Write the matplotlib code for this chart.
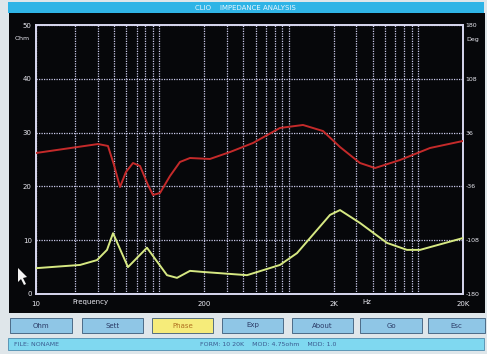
import numpy as np
import matplotlib.pyplot as plt
from matplotlib.patches import Rectangle, Polygon
from matplotlib.ticker import FixedLocator, NullFormatter

# Impedance magnitude trace (green), Ohm
mag_freq = [10, 21.9, 29.6, 35.4, 39.4, 51.4, 72.1, 103, 123, 155, 195, 428, 769,
            1042, 1487, 1875, 2240, 3198, 5164, 7380, 9305, 20000]
mag_ohm = [4.8, 5.4, 6.3, 8.2, 11.3, 5.0, 8.6, 3.5, 3.0, 4.3, 4.1, 3.5, 5.4,
           7.6, 11.9, 14.7, 15.6, 13.2, 9.5, 8.2, 8.2, 10.4]

# Phase trace (red), degrees
ph_freq = [10, 30.2, 36.0, 40.1, 44.6, 49.6, 56.2, 63.7, 73.4, 80.2, 90.9, 108.6,
           129.7, 155, 221, 316, 476, 769, 1159, 1655, 2240, 3198, 4178, 6516,
           11118, 20000]
ph_deg = [8.7, 20.7, 18.1, -7.4, -36.8, -16.7, -4.7, -8.7, -34.1, -47.5, -44.8, -22.1,
          -3.3, 2.0, 0.7, 10.0, 22.1, 42.2, 46.2, 38.1, 16.7, -4.7, -11.4, -0.7,
          15.4, 24.8]

ohm_ticks = [0, 10, 20, 30, 40, 50]
deg_ticks = [-180, -108, -36, 36, 108, 180]
freq_ticks = [10, 200, 2000, 20000]
freq_labels = ["10", "200", "2K", "20K"]
buttons = ["Ohm", "Sett", "Phase", "Exp", "About", "Go", "Esc"]

W, H = 487, 354
fig = plt.figure(figsize=(W / 100, H / 100), dpi=100)
fig.patch.set_facecolor("#dfe6ea")


def box(x0, y0, x1, y1, fc, ec="none", lw=0.0, z=-5):
    fig.patches.append(Rectangle((x0 / W, 1 - y1 / H), (x1 - x0) / W, (y1 - y0) / H,
                                 transform=fig.transFigure, facecolor=fc,
                                 edgecolor=ec, linewidth=lw, zorder=z))


def ftext(x, y, s, **kw):
    fig.text(x / W, 1 - y / H, s, **kw)


# window title bar
box(8, 2, 484, 13, "#2fb4e6")
ftext(245, 7.5, "CLIO    IMPEDANCE ANALYSIS", color="#e8f6ff", fontsize=5,
      ha="center", va="center")
# black display area
box(9, 13, 485, 313, "#06070a")

# button row
bx = [(10, 72), (82, 143), (152, 213), (222, 283), (292, 353), (360, 422), (428, 485)]
for (x0, x1), name in zip(bx, buttons):
    face = "#f6ec7a" if name == "Phase" else "#8fc6e6"
    box(x0, 318, x1, 333, face, ec="#3c5a78", lw=0.6)
    ftext((x0 + x1) / 2, 325.5, name, color="#2a3a66" if name != "Phase" else "#b07020",
          fontsize=5, ha="center", va="center")

# status bar
box(8, 338, 484, 350, "#7fd8f0", ec="#3a7aa0", lw=0.5)
ftext(14, 344, "FILE: NONAME", color="#3a5a90", fontsize=4.5, va="center")
ftext(200, 344, "FORM: 10 20K    MOD: 4.75ohm    MDD: 1.0", color="#3a5a90",
      fontsize=4.5, va="center")

# plot axes
x0, x1, y0, y1 = 36, 463, 25, 294
ax = fig.add_axes([x0 / W, 1 - y1 / H, (x1 - x0) / W, (y1 - y0) / H])
ax.set_zorder(1)
ax.set_facecolor("#06070a")
ax.set_xscale("log")
ax.set_xlim(10, 20000)
ax.set_ylim(0, 50)

minor = [m * 10 ** d for d in range(1, 5) for m in range(2, 10) if m * 10 ** d < 20000]
minor = [f for f in minor if f not in freq_ticks]
ax.xaxis.set_major_locator(FixedLocator(freq_ticks))
ax.xaxis.set_minor_locator(FixedLocator(minor))
ax.xaxis.set_minor_formatter(NullFormatter())
ax.set_xticklabels(freq_labels)
ax.set_yticks(ohm_ticks)
ax.set_yticklabels([str(v) for v in ohm_ticks])

grid_kw = dict(color="#d4d4f6", linestyle=(0, (1, 1)), linewidth=0.9, alpha=0.95)
ax.grid(True, which="both", axis="x", **grid_kw)
ax.grid(True, which="major", axis="y", **grid_kw)
ax.tick_params(axis="both", which="both", length=0, colors="#e8e8f0", labelsize=5)
ax.tick_params(axis="x", pad=5)
ax.tick_params(axis="y", pad=3)
for sp in ax.spines.values():
    sp.set_color("#d8d8f0")
    sp.set_linestyle((0, (1, 1)))
    sp.set_linewidth(1.4)

ax2 = ax.twinx()
ax2.set_ylim(-180, 180)
ax2.set_yticks(deg_ticks)
ax2.set_yticklabels([str(v) for v in deg_ticks])
ax2.tick_params(axis="y", length=0, colors="#e8e8f0", labelsize=4.5, pad=2)
for sp in ax2.spines.values():
    sp.set_visible(False)

ax.plot(mag_freq, mag_ohm, color="#d6e882", linewidth=1.4, zorder=5)
ax2.plot(ph_freq, ph_deg, color="#c42a2a", linewidth=1.4, zorder=5)

# unit labels beside the scales
ftext(30, 39, "Ohm", color="#e8e8f0", fontsize=4.5, ha="right", va="center")
ftext(466, 39, "Deg", color="#e8e8f0", fontsize=4.5, ha="left", va="center")
ftext(72, 302, "Frequency", color="#e8e8f0", fontsize=5, ha="left", va="center")
ftext(362, 302, "Hz", color="#e8e8f0", fontsize=5, ha="left", va="center")

# mouse pointer
pts = np.array([[18, 268], [18, 282], [21, 279], [24, 285], [26, 284], [23, 278], [27, 277]])
fig.patches.append(Polygon(np.column_stack([pts[:, 0] / W, 1 - pts[:, 1] / H]),
                           closed=True, transform=fig.transFigure,
                           facecolor="#f4f4f4", edgecolor="none", zorder=10))

fig.savefig("out.png", dpi=100, facecolor=fig.get_facecolor())
